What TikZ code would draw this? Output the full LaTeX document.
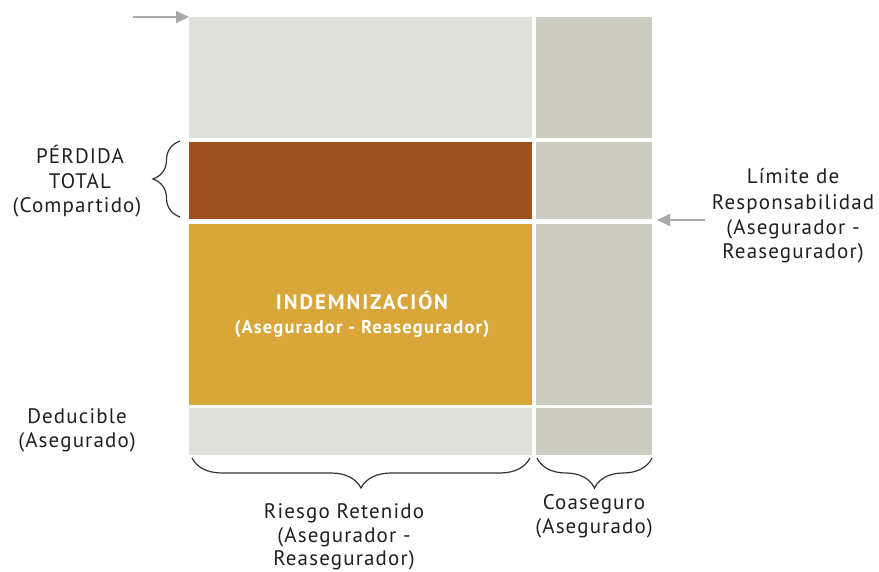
\documentclass[tikz,border=0pt]{standalone}
\usepackage{fontspec}
\setmainfont{PT Sans}
\newfontfamily\lblfont[LetterSpace=5.5]{PT Sans}
\newfontfamily\indfont[LetterSpace=9]{PT Sans Bold}
\newfontfamily\indsubfont[LetterSpace=6.5]{PT Sans Bold}
\usetikzlibrary{decorations.pathreplacing,arrows.meta}
\definecolor{lightgr}{HTML}{E0E0DB}
\definecolor{darkgr}{HTML}{CDCCC0}
\definecolor{brownc}{HTML}{A0501B}
\definecolor{goldc}{HTML}{D9A63A}
\definecolor{arrowgr}{HTML}{A7A9AC}
\definecolor{bracec}{HTML}{333333}
\definecolor{textc}{HTML}{231F20}
\tikzset{
  cell/.style={anchor=north west,inner sep=0pt,outer sep=0pt,draw=none},
  lbl/.style={anchor=base,inner sep=0pt,font=\lblfont\fontsize{21}{24}\selectfont,text=textc},
  wlbl/.style={anchor=base,inner sep=0pt,text=white},
  gbrace/.style={draw=bracec,line width=1.2pt,decorate,decoration={brace,amplitude=30pt}},
  garrow/.style={draw=arrowgr,line width=2pt,-{Triangle[length=13pt,width=12pt]}}
}
\begin{document}
\begin{tikzpicture}[x=1pt,y=-1pt]
\useasboundingbox (0,0) rectangle (879,571);
% cells
\node[cell,fill=lightgr,minimum width=343pt,minimum height=121pt] (r1L) at (189,17) {};
\node[cell,fill=darkgr,minimum width=116pt,minimum height=121pt] (r1R) at (536,17) {};
\node[cell,fill=brownc,minimum width=343pt,minimum height=77pt] (r2L) at (189,142) {};
\node[cell,fill=darkgr,minimum width=116pt,minimum height=77pt] (r2R) at (536,142) {};
\node[cell,fill=goldc,minimum width=343pt,minimum height=181pt] (r3L) at (189,224) {};
\node[cell,fill=darkgr,minimum width=116pt,minimum height=181pt] (r3R) at (536,224) {};
\node[cell,fill=lightgr,minimum width=343pt,minimum height=47pt] (r4L) at (189,408) {};
\node[cell,fill=darkgr,minimum width=116pt,minimum height=47pt] (r4R) at (536,408) {};
% arrows
\coordinate (ta) at (133,17);
\draw[garrow] (ta) -- (r1L.north west);
\coordinate (ra) at (705,220);
\coordinate (rb) at (657,220);
\draw[garrow] (ra) -- (rb);
% braces
\coordinate (lb1) at (180,217);
\coordinate (lb2) at (180,141);
\draw[gbrace,decoration={amplitude=27pt}] (lb1) -- (lb2);
\coordinate (bb1) at (192,458);
\coordinate (bb2) at (530,458);
\draw[gbrace,decoration={mirror}] (bb1) -- (bb2);
\coordinate (cb1) at (537,458);
\coordinate (cb2) at (652,458);
\draw[gbrace,decoration={mirror}] (cb1) -- (cb2);
% center labels
\node[wlbl,font=\indfont\fontsize{21}{24}\selectfont] (ind1) at (362,309) {INDEMNIZACIÓN};
\node[wlbl,font=\indsubfont\fontsize{18.5}{22}\selectfont] (ind2) at (362,333) {(Asegurador - Reasegurador)};
% left labels
\node[lbl] (pt1) at (80,163) {PÉRDIDA};
\node[lbl] (pt2) at (80,188) {TOTAL};
\node[lbl] (pt3) at (77,212) {(Compartido)};
\node[lbl] (de1) at (77,423) {Deducible};
\node[lbl] (de2) at (77,447) {(Asegurado)};
% right labels
\node[lbl] (li1) at (793,183) {Límite de};
\node[lbl] (li2) at (793,209) {Responsabilidad};
\node[lbl] (li3) at (793,234) {(Asegurador -};
\node[lbl] (li4) at (793,258) {Reasegurador)};
% bottom labels
\node[lbl] (rr1) at (344,518) {Riesgo Retenido};
\node[lbl] (rr2) at (344,542) {(Asegurador -};
\node[lbl] (rr3) at (344,565) {Reasegurador)};
\node[lbl] (co1) at (594,509) {Coaseguro};
\node[lbl] (co2) at (594,533) {(Asegurado)};
\end{tikzpicture}
\end{document}
